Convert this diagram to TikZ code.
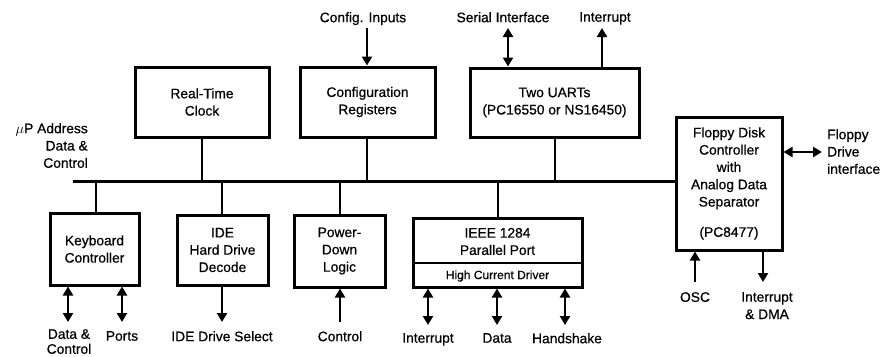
\documentclass[tikz,border=0pt]{standalone}
\usepackage{fontspec}
\setmainfont{Liberation Sans}[FakeBold=0.6]
\usetikzlibrary{arrows.meta}
\begin{document}
\begin{tikzpicture}[x=1pt,y=-1pt,
  font=\fontsize{13.8}{17.3}\selectfont,
  box/.style={draw, line width=3pt, align=center, inner sep=0pt},
  wire/.style={line width=2.5pt},
  bus/.style={line width=3pt},
  tip/.style={line width=2.5pt, -{Triangle[length=9pt,width=10pt]}},
  dtip/.style={line width=2.5pt, {Triangle[length=9pt,width=10pt]}-{Triangle[length=9pt,width=10pt]}},
  lbl/.style={inner sep=0pt, align=center, anchor=north}]
\useasboundingbox (0,0) rectangle (882,356);

% top row boxes
\node[box, minimum width=134pt, minimum height=70pt] (rtc) at (202,102) {Real-Time\\Clock};
\node[box, minimum width=135pt, minimum height=70pt] (cfg) at (367.5,102) {Configuration\\Registers};
\node[box, minimum width=169pt, minimum height=69pt] (uart) at (554.5,102.5) {Two UARTs\\(PC16550 or NS16450)};
\node[box, minimum width=106pt, minimum height=133pt] (fdc) at (729,183.5)
  {Floppy Disk\\Controller\\with\\Analog Data\\Separator\\[13pt](PC8477)};

% bottom row boxes
\node[box, minimum width=89pt, minimum height=72pt] (kbd) at (94.5,249) {Keyboard\\Controller};
\node[box, minimum width=91pt, minimum height=70pt] (ide) at (222.5,250) {IDE\\Hard Drive\\Decode};
\node[box, minimum width=91pt, minimum height=72pt] (pdl) at (339.5,251) {Power-\\Down\\Logic};
\node[box, minimum width=169pt, minimum height=69pt] (pp) at (497.5,252.5) {};
\node[inner sep=0pt, align=center] (pptxt) at (497.5,241.5) {IEEE 1284\\Parallel Port};
\node[inner sep=0pt, font=\fontsize{12}{14}\selectfont] (hcd) at (497.5,276) {High Current Driver};
\coordinate (ppdiv) at (0,263);
\draw[line width=2.5pt] (pp.west |- ppdiv) -- (pp.east |- ppdiv);

% bus
\coordinate (busL) at (73,181);
\draw[bus] (busL) -- (busL -| fdc.west);
\node[inner sep=0pt, align=right, anchor=north east] (up) at (88,123) {$\mu$P Address\\Data \&\\Control};

% bus taps
\coordinate (trtc) at (202,181);
\coordinate (tcfg) at (367,181);
\coordinate (tuart) at (555,181);
\coordinate (tkbd) at (96,181);
\coordinate (tide) at (222,181);
\coordinate (tpdl) at (340,181);
\coordinate (tpp) at (498,181);
\draw[wire] (rtc.south -| trtc) -- (trtc);
\draw[wire] (cfg.south -| tcfg) -- (tcfg);
\draw[wire] (uart.south -| tuart) -- (tuart);
\draw[wire] (kbd.north -| tkbd) -- (tkbd);
\draw[wire] (ide.north -| tide) -- (tide);
\draw[wire] (pdl.north -| tpdl) -- (tpdl);
\draw[wire] (pp.north -| tpp) -- (tpp);

% top labels and arrows
\node[lbl] (lcfg) at (363,12) {Config. Inputs};
\node[lbl] (lser) at (503,12) {Serial Interface};
\node[lbl] (lint) at (605,12) {Interrupt};
\coordinate (acfg) at (367,28);
\coordinate (aser) at (508,28);
\coordinate (aint) at (602,28);
\draw[tip] (acfg) -- (cfg.north -| acfg);
\draw[dtip] (aser) -- (uart.north -| aser);
\draw[tip] (uart.north -| aint) -- (aint);

% floppy drive interface
\coordinate (afd) at (822,152);
\draw[dtip] (fdc.east |- afd) -- (afd);
\node[inner sep=0pt, align=left, anchor=north west] (lfd) at (827,129) {Floppy\\Drive\\interface};

% fdc bottom
\coordinate (aosc) at (695,282);
\coordinate (adma) at (763,282);
\draw[tip] (aosc) -- (fdc.south -| aosc);
\draw[tip] (fdc.south -| adma) -- (adma);
\node[lbl] (losc) at (695,292) {OSC};
\node[lbl] (ldma) at (767,292) {Interrupt\\\& DMA};

% keyboard
\coordinate (akd) at (68,322);
\coordinate (akp) at (122,322);
\draw[dtip] (kbd.south -| akd) -- (akd);
\draw[dtip] (kbd.south -| akp) -- (akp);
\node[lbl, font=\fontsize{13.8}{15}\selectfont] (lkd) at (69,329) {Data \&\\Control};
\node[lbl] (lkp) at (122,331) {Ports};

% ide
\coordinate (aide) at (222,322);
\draw[tip] (ide.south -| aide) -- (aide);
\node[lbl] (lide) at (222,331) {IDE Drive Select};

% power-down
\coordinate (apdl) at (340,322);
\draw[tip] (apdl) -- (pdl.south -| apdl);
\node[lbl] (lpdl) at (340,331) {Control};

% parallel port
\coordinate (appi) at (428,325);
\coordinate (appd) at (497,325);
\coordinate (apph) at (565,325);
\draw[dtip] (pp.south -| appi) -- (appi);
\draw[dtip] (pp.south -| appd) -- (appd);
\draw[dtip] (pp.south -| apph) -- (apph);
\node[lbl] (lppi) at (428,333) {Interrupt};
\node[lbl] (lppd) at (497,333) {Data};
\node[lbl] (lpph) at (567,333) {Handshake};
\end{tikzpicture}
\end{document}
